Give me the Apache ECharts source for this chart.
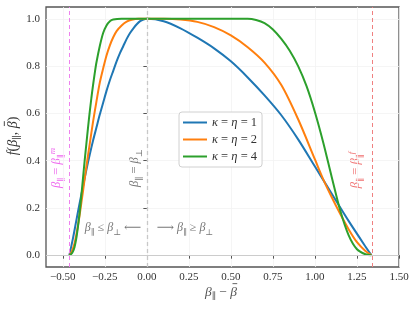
<!DOCTYPE html>
<html><head><meta charset="utf-8">
<script src="https://cdn.jsdelivr.net/npm/echarts@6/dist/echarts.min.js"></script>
<style>html,body{margin:0;padding:0;background:#fff}#c{width:416px;height:309px}</style>
</head><body><div id="c"></div>
<script>
const seriesNames = ['κ = η = 1', 'κ = η = 2', 'κ = η = 4'];
const seriesColors = ['#1f77b4', '#ff7f0e', '#2ca02c'];

const blueX = [-0.461,-0.44,-0.42,-0.40,-0.38,-0.36,-0.34,-0.32,-0.30,-0.28,-0.26,-0.24,-0.22,-0.20,-0.18,-0.16,-0.14,-0.12,-0.10,-0.08,-0.06,-0.04,-0.02,0,0.1,0.2,0.3,0.4,0.5,0.6,0.7,0.8,0.9,1.0,1.1,1.2,1.3,1.336];
const blueY = [0,0.07,0.145,0.22,0.29,0.36,0.425,0.485,0.54,0.595,0.645,0.695,0.74,0.78,0.82,0.855,0.885,0.915,0.94,0.96,0.977,0.99,0.997,1,0.99,0.96,0.92,0.875,0.82,0.752,0.676,0.592,0.49,0.375,0.26,0.145,0.037,0];

const orangeX = [-0.461,-0.45,-0.44,-0.43,-0.42,-0.41,-0.40,-0.38,-0.36,-0.34,-0.32,-0.30,-0.28,-0.26,-0.24,-0.22,-0.20,-0.18,-0.15,-0.12,-0.09,-0.05,0,0.1,0.2,0.3,0.4,0.5,0.6,0.7,0.8,0.9,1.0,1.05,1.1,1.15,1.2,1.25,1.3,1.336];
const orangeY = [0,0.01,0.028,0.05,0.085,0.125,0.17,0.27,0.375,0.47,0.565,0.65,0.73,0.79,0.845,0.888,0.922,0.948,0.972,0.988,0.996,1,1,1,0.997,0.987,0.965,0.93,0.88,0.815,0.72,0.575,0.405,0.32,0.245,0.175,0.11,0.055,0.018,0];

const greenX = [-0.461,-0.45,-0.44,-0.43,-0.42,-0.41,-0.40,-0.39,-0.38,-0.37,-0.36,-0.35,-0.34,-0.33,-0.32,-0.31,-0.30,-0.28,-0.26,-0.24,-0.22,-0.20,-0.15,0,0.3,0.6,0.65,0.7,0.75,0.8,0.85,0.9,0.95,1.0,1.05,1.1,1.15,1.2,1.25,1.3,1.336];
const greenY = [0,0.005,0.015,0.035,0.07,0.12,0.18,0.25,0.325,0.40,0.47,0.54,0.605,0.665,0.72,0.77,0.815,0.885,0.94,0.972,0.99,0.997,1,1,1,1,0.995,0.982,0.955,0.915,0.865,0.80,0.715,0.605,0.475,0.33,0.19,0.085,0.025,0.004,0];

const xTicks = [-0.5,-0.25,0,0.25,0.5,0.75,1.0,1.25,1.5];
const yTicks = [0,0.2,0.4,0.6,0.8,1.0];
const betaMin = -0.461;
const betaMax = 1.336;

const zip = (xs, ys) => xs.map((x, i) => [x, ys[i]]);
const allX = [blueX, orangeX, greenX];
const allY = [blueY, orangeY, greenY];

const serif = '"Liberation Serif", "DejaVu Serif", serif';
const fmtX = v => (v < 0 ? '\u2212' : '') + Math.abs(v).toFixed(2);
const fmtY = v => v.toFixed(1);

const mathRich = (color, size) => ({
  b: { fontFamily: serif, fontStyle: 'italic', fontSize: size, lineHeight: 18, fill: color },
  n: { fontFamily: serif, fontSize: size, lineHeight: 18, fill: color },
  s: { fontFamily: serif, fontSize: size * 0.7, verticalAlign: 'bottom', fill: color },
  u: { fontFamily: serif, fontStyle: 'italic', fontSize: size * 0.7, verticalAlign: 'top', fill: color }
});

const G = echarts.graphic;
function textWidth(text, rich) {
  if (!text) return 0;
  const t = new G.Text({ style: { text: text, rich: rich } });
  return t.getBoundingRect().width;
}
// label with a barred beta (β̄): pre + β̄ + post
function barLabel(cx, cy, rotation, pre, post, color, size) {
  const rich = mathRich(color, size);
  const wPre = textWidth(pre, rich), wB = textWidth('{b|β}', rich), wPost = textWidth(post, rich);
  const x0 = -(wPre + wB + wPost) / 2;
  const xb = x0 + wPre;
  const children = [
    { type: 'text', x: x0, y: 0, style: { text: pre, rich: rich, align: 'left', verticalAlign: 'middle' } },
    { type: 'text', x: xb, y: 0, style: { text: '{b|β}', rich: rich, align: 'left', verticalAlign: 'middle' } },
    { type: 'line', shape: { x1: xb + wB * 0.32, y1: -size * 0.62, x2: xb + wB * 1.02, y2: -size * 0.62 }, style: { stroke: color, lineWidth: 0.9 } }
  ];
  if (post) children.push({ type: 'text', x: xb + wB, y: 0, style: { text: post, rich: rich, align: 'left', verticalAlign: 'middle' } });
  return { type: 'group', x: cx, y: cy, rotation: rotation, children: children };
}

const chart = echarts.init(document.getElementById('c'));
const series = seriesNames.map((name, i) => ({
  name: name,
  type: 'line',
  data: zip(allX[i], allY[i]),
  showSymbol: false,
  smooth: 0.3,
  lineStyle: { color: seriesColors[i], width: 2 },
  itemStyle: { color: seriesColors[i] },
  z: 3
}));
series.push({
  type: 'line', data: [], silent: true, z: 1,
  markLine: {
    silent: true, symbol: 'none', label: { show: false },
    data: [
      { xAxis: betaMin, lineStyle: { color: '#ee82ee', type: [4, 3], width: 1 } },
      { xAxis: 0, lineStyle: { color: '#c8c8c8', type: [4, 3], width: 1.3 } },
      { xAxis: betaMax, lineStyle: { color: '#f08080', type: [4, 3], width: 1 } },
      { yAxis: 0, lineStyle: { color: '#cccccc', type: 'solid', width: 1 } }
    ]
  }
});

chart.setOption({
  animation: false,
  backgroundColor: '#fff',
  grid: { left: 46, right: 17, top: 7, bottom: 42, show: true, borderColor: '#555', borderWidth: 1.3, backgroundColor: 'transparent' },
  xAxis: {
    type: 'value', min: -0.6, max: 1.5,
    axisLine: { show: false },
    axisTick: { show: true, customValues: xTicks, length: 3.5, lineStyle: { color: '#555' } },
    axisLabel: { customValues: xTicks, formatter: fmtX, fontFamily: serif, fontSize: 11, color: '#333', margin: 5 },
    splitLine: { show: true, lineStyle: { color: '#f3f3f3', width: 0.8 } }
  },
  yAxis: {
    type: 'value', min: -0.05, max: 1.05,
    axisLine: { show: false },
    axisTick: { show: true, customValues: yTicks, length: 3.5, lineStyle: { color: '#555' } },
    axisLabel: { customValues: yTicks, formatter: fmtY, fontFamily: serif, fontSize: 11, color: '#333', margin: 6 },
    splitLine: { show: true, lineStyle: { color: '#f3f3f3', width: 0.8 } }
  },
  legend: {
    data: seriesNames,
    orient: 'vertical', left: 179, top: 112,
    icon: 'rect', itemWidth: 24, itemHeight: 2, itemGap: 4,
    padding: [4, 5, 4, 4],
    backgroundColor: 'rgba(255,255,255,0.85)', borderColor: '#d0d0d0', borderWidth: 1, borderRadius: 3,
    formatter: name => { const n = name.slice(-1); return '{b|κ} = {b|η} = ' + n; },
    textStyle: { fontFamily: serif, fontSize: 12.5, color: '#333', rich: { b: { fontFamily: serif, fontStyle: 'italic', fontSize: 12.5, color: '#333' } } }
  },
  series: series,
  graphic: [
    barLabel(13, 136, Math.PI / 2, '{b|f}{n|(}{b|β}{s|∥}{n|, }', '{n|)}', '#333', 14),
    barLabel(221, 292, 0, '{b|β}{s|∥}{n| − }', '', '#555', 13.5),
    { type: 'text', x: 57, y: 168, rotation: Math.PI / 2,
      style: { text: '{b|β}{s|∥}{n| = }{b|β}{s|∥}{u|m}', align: 'center', verticalAlign: 'middle', rich: mathRich('#ee66ee', 12.5) } },
    { type: 'text', x: 135, y: 168, rotation: Math.PI / 2,
      style: { text: '{b|β}{s|∥}{n| = }{b|β}{s|⊥}', align: 'center', verticalAlign: 'middle', rich: mathRich('#777', 12.5) } },
    { type: 'text', x: 356, y: 170, rotation: Math.PI / 2,
      style: { text: '{b|β}{s|∥}{n| = }{b|β}{s|∥}{u|f}', align: 'center', verticalAlign: 'middle', rich: mathRich('#f07070', 12.5) } },
    { type: 'text', x: 113, y: 228,
      style: { text: '{b|β}{s|∥}{n| ≤ }{b|β}{s|⊥}{n| ⟵}', align: 'center', verticalAlign: 'middle', rich: mathRich('#777', 12) } },
    { type: 'text', x: 185, y: 228,
      style: { text: '{n|⟶ }{b|β}{s|∥}{n| ≥ }{b|β}{s|⊥}', align: 'center', verticalAlign: 'middle', rich: mathRich('#777', 12) } }
  ]
});
</script></body></html>
